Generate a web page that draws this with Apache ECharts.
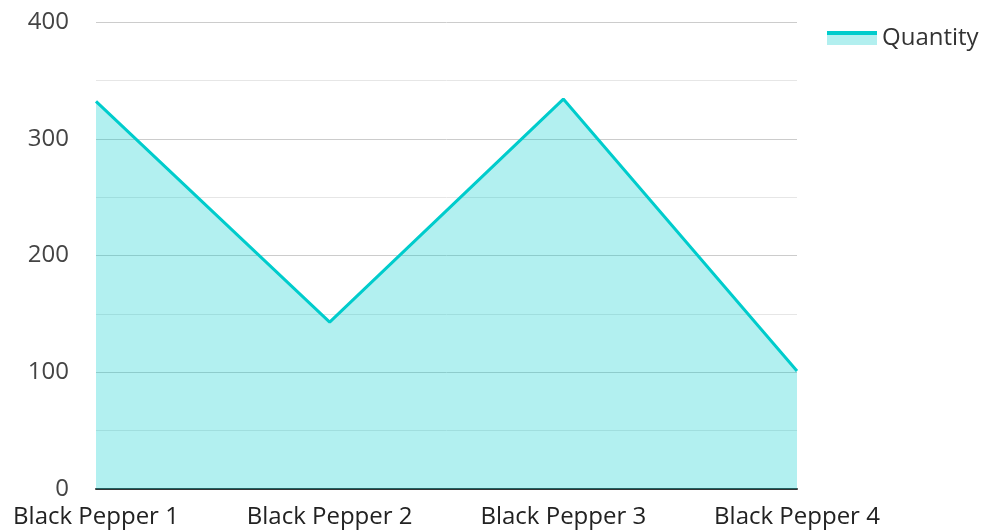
<!DOCTYPE html>
<html><head><meta charset="utf-8">
<script src="https://cdn.jsdelivr.net/npm/echarts@6/dist/echarts.min.js"></script>
<style>html,body{margin:0;padding:0;background:#fff}#c{width:986px;height:531px}</style>
</head><body><div id="c"></div>
<script>
const categories = ['Black Pepper 1', 'Black Pepper 2', 'Black Pepper 3', 'Black Pepper 4'];
const quantity = [332, 143, 334, 101];
const seriesName = 'Quantity';

const chart = echarts.init(document.getElementById('c'), null, {renderer: 'canvas'});
chart.setOption({
  animation: false,
  textStyle: {fontFamily: 'Open Sans'},
  grid: {left: 96, right: 189, top: 22, bottom: 42, containLabel: false},
  legend: {
    left: 822, top: 21,
    itemWidth: 50, itemHeight: 14,
    itemGap: 10,
    icon: 'rect',
    textStyle: {fontSize: 24, color: '#333', fontFamily: 'Open Sans'},
    data: [{name: seriesName, itemStyle: {color: new echarts.graphic.LinearGradient(0,0,0,1,[
      {offset: 0, color: '#00cccc'}, {offset: 0.25, color: '#00cccc'},
      {offset: 0.25, color: '#b2efef'}, {offset: 1, color: '#b2efef'}])}}]
  },
  xAxis: {
    type: 'category', data: categories, boundaryGap: false,
    axisLine: {lineStyle: {color: '#333', width: 2}},
    axisTick: {show: false},
    axisLabel: {fontSize: 24, color: '#222', margin: 16, interval: 0, fontFamily: 'Open Sans'},
    splitLine: {show: false}
  },
  yAxis: {
    type: 'value', min: 0, max: 400, interval: 50,
    axisLine: {show: false}, axisTick: {show: false},
    axisLabel: {fontSize: 24, color: '#444', margin: 27, fontFamily: 'Open Sans',
      formatter: v => (v % 100 === 0 ? String(v) : '')},
    splitLine: {lineStyle: {color: ['#cccccc', '#e6e6e6'], width: 1}}
  },
  series: [{
    name: seriesName, type: 'line', data: quantity,
    symbol: 'none',
    lineStyle: {color: '#00cccc', width: 3},
    itemStyle: {color: '#00cccc'},
    areaStyle: {color: '#00cccc', opacity: 0.3}
  }]
});
</script></body></html>
